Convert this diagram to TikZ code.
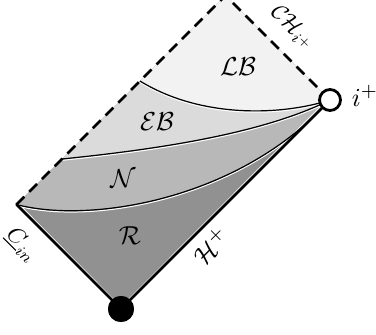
\documentclass[tikz,border=0pt]{standalone}
\usetikzlibrary{calc}
\definecolor{cLB}{gray}{0.95}
\definecolor{cEB}{gray}{0.86}
\definecolor{cN}{gray}{0.72}
\definecolor{cR}{gray}{0.57}
\newcommand{\biglab}[1]{\scalebox{2.6}{$#1$}}
\newcommand{\medlab}[1]{\scalebox{2.3}{$#1$}}
\tikzset{
  lab/.style={inner sep=0pt},
  edgesolid/.style={line width=2.6pt, line cap=round, line join=round},
  edgedash/.style={line width=2.6pt, dash pattern=on 11pt off 7pt},
  bound/.style={line width=1.2pt},
  hilite/.style={white, line width=1.1pt},
}
\begin{document}
\begin{tikzpicture}[x=1pt,y=-1pt]
\useasboundingbox (0,0) rectangle (376,335);
\coordinate (L) at (16.5,204.5);
\coordinate (T) at (225.5,-4.5);
\coordinate (P) at (330,100);
\coordinate (B) at (121,309);
\coordinate (A0) at (140,81);
\coordinate (B0) at (62,159);
% fills
\fill[cR] (L) -- (B) -- (P) -- (T) -- cycle;
\fill[cN] (L) .. controls (90,224) and (240,200) .. (P) -- (T) -- cycle;
\fill[cEB] (B0) .. controls (150,150) and (260,135) .. (P) -- (T) -- cycle;
\fill[cLB] (A0) .. controls (200,118) and (280,116) .. (P) -- (T) -- cycle;
% highlights
\draw[hilite] ([yshift=-1.3pt]L) .. controls (90,225.3) and (240,201.3) .. ([yshift=-1.3pt]P);
\draw[hilite] ([yshift=-1.3pt]B0) .. controls (150,151.3) and (260,136.3) .. ([yshift=-1.3pt]P);
\draw[hilite] ([yshift=-1.3pt]A0) .. controls (200,119.3) and (280,117.3) .. ([yshift=-1.3pt]P);
\draw[hilite, line width=0.8pt] ($(L)+(1.4,-1.4)$) -- ($(B)+(0,-2)$) -- ($(P)+(-1.4,-1.4)$);
% boundaries
\draw[bound] (L) .. controls (90,224) and (240,200) .. (P);
\draw[bound] (B0) .. controls (150,150) and (260,135) .. (P);
\draw[bound] (A0) .. controls (200,118) and (280,116) .. (P);
% edges
\draw[edgedash] (L) -- (T) -- (P);
\node[circle, fill=black, minimum size=26pt, inner sep=0pt] (bot) at (B) {};
\node[circle, draw=black, fill=white, line width=2.8pt, minimum size=21pt, inner sep=0pt] (ip) at (P) {};
\draw[edgesolid] (L) -- (bot.center);
\draw[edgesolid] (bot.center) -- (ip);
\node[circle, fill=black, minimum size=26pt, inner sep=0pt] at (B) {};
% labels
\node[lab] (lLB) at (238,67) {\biglab{\mathcal{LB}}};
\node[lab] (lEB) at (157,122) {\biglab{\mathcal{EB}}};
\node[lab] (lN) at (123,179) {\biglab{\mathcal{N}}};
\node[lab] (lR) at (130,236) {\biglab{\mathcal{R}}};
\node[lab] (lip) at (365,96) {\biglab{i^+}};
\node[lab, rotate=-45] (lCH) at (293,28) {\medlab{\mathcal{CH}_{i^+}}};
\node[lab, rotate=-45] (lCin) at (22,245) {\medlab{\underline{C}_{in}}};
\node[lab, rotate=45] (lH) at (211,246) {\biglab{\mathcal{H}^+}};
\end{tikzpicture}
\end{document}
